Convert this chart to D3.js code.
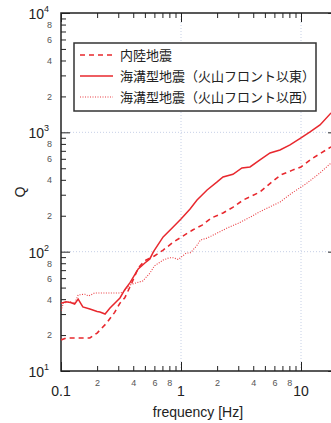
<!DOCTYPE html>
<html>
<head>
<meta charset="utf-8">
<script src="https://cdn.jsdelivr.net/npm/d3@7"></script>
<style>
  html, body { margin: 0; padding: 0; background: #fff; }
  svg { display: block; }
</style>
</head>
<body>
<svg id="chart" width="331" height="423"></svg>
<script>
// Q(f) curves for three earthquake groups
const seriesNames = ["内陸地震", "海溝型地震（火山フロント以東）", "海溝型地震（火山フロント以西）"];

const freqInland = [0.1, 0.11, 0.139, 0.174, 0.2, 0.24, 0.28, 0.31, 0.34, 0.39, 0.44, 0.5, 0.6, 0.71, 0.86, 1.0, 1.25, 1.5, 1.8, 2.24, 2.7, 3.3, 4.55, 5.6, 6.8, 8.4, 10, 12.3, 17.8];
const qInland    = [18.2, 18.9, 18.9, 18.9, 20.8, 25.2, 31, 37, 41, 55, 73, 84, 92, 103, 120, 132, 152, 167, 192, 211, 235, 271, 316, 377, 440, 480, 513, 600, 755];

const freqEast = [0.1, 0.11, 0.12, 0.13, 0.139, 0.152, 0.174, 0.2, 0.211, 0.233, 0.256, 0.31, 0.34, 0.376, 0.44, 0.5, 0.55, 0.59, 0.71, 0.86, 1.0, 1.19, 1.36, 1.65, 2.0, 2.24, 2.71, 3.22, 3.76, 4.55, 5.52, 6.68, 8.1, 10, 11.9, 14.4, 17.8];
const qEast    = [37, 38, 37.5, 36.4, 40, 34.4, 33.1, 31.5, 31.2, 30.0, 33.7, 40.9, 48, 55, 71.6, 80.4, 86.9, 100, 133, 161, 188, 228, 271, 329, 384, 423, 445, 503, 513, 587, 672, 712, 784, 897, 1007, 1153, 1455];

const freqWest = [0.1, 0.105, 0.12, 0.13, 0.139, 0.158, 0.17, 0.19, 0.25, 0.31, 0.33, 0.376, 0.42, 0.48, 0.55, 0.6, 0.71, 0.8, 0.86, 0.95, 1.1, 1.2, 1.35, 1.45, 1.65, 2.0, 2.4, 3.0, 3.6, 4.7, 6.7, 8.4, 11, 14.4, 17.8];
const qWest    = [32, 37.2, 38, 37, 43.4, 44, 42.5, 45, 45, 45, 46, 52.6, 54.6, 56.8, 66, 76, 85, 89, 89, 86, 97, 98, 112, 125, 130, 143, 157, 173, 190, 220, 261, 310, 370, 457, 554];

const xDomain = [0.1, 20];
const yDomain = [10, 10000];
const xDecadeLabels = ["0.1", "1", "10"];
const xDecades = [0.1, 1, 10];
const yDecades = [10, 100, 1000, 10000];
const yDecadeExps = ["1", "2", "3", "4"];
const minorLabelDigits = [2, 4, 6, 8];

(function draw() {
  const svg = d3.select("#chart");
  const plotLeft = 61, plotTop = 13, plotBottom = 371;
  const decadePx = 120;
  const plotRight = plotLeft + decadePx * Math.log10(xDomain[1] / xDomain[0]);

  const x = d3.scaleLog().domain(xDomain).range([plotLeft, plotRight]);
  const y = d3.scaleLog().domain(yDomain).range([plotBottom, plotTop]);

  const red = "#e8282e";
  const axisColor = "#222";
  const tickFont = "'Liberation Sans', Arial, sans-serif";
  const cjkFont = "'Noto Sans CJK JP', sans-serif";

  // minor tick values strictly inside the domain
  function minors(domain) {
    const out = [];
    for (let e = Math.floor(Math.log10(domain[0])); e < Math.ceil(Math.log10(domain[1])); e++) {
      for (let m = 2; m <= 9; m++) {
        const v = m * Math.pow(10, e);
        if (v > domain[0] && v < domain[1]) out.push(+v.toPrecision(3));
      }
    }
    return out;
  }
  const xMinor = minors(xDomain);
  const yMinor = minors(yDomain);
  const leadDigit = v => Math.round(v / Math.pow(10, Math.floor(Math.log10(v) + 1e-9)));

  // grid at decades
  const grid = svg.append("g").attr("stroke", "#b8c4e0").attr("stroke-width", 0.8).attr("stroke-dasharray", "1,2");
  xDecades.filter(d => d > xDomain[0]).forEach(d => {
    grid.append("line").attr("x1", x(d)).attr("x2", x(d)).attr("y1", plotTop).attr("y2", plotBottom);
  });
  yDecades.filter(d => d > yDomain[0] && d < yDomain[1]).forEach(d => {
    grid.append("line").attr("x1", plotLeft).attr("x2", plotRight).attr("y1", y(d)).attr("y2", y(d));
  });

  // axes with inward ticks
  function styleAxis(g) {
    g.select(".domain").remove();
    g.selectAll(".tick line").attr("stroke", axisColor).attr("stroke-width", 1);
    g.selectAll(".tick text").attr("fill", "#555").attr("font-family", tickFont).attr("font-size", 9);
  }
  const minorFmt = d => minorLabelDigits.includes(leadDigit(d)) ? String(leadDigit(d)) : "";

  svg.append("g").attr("transform", `translate(0,${plotBottom})`)
    .call(d3.axisBottom(x).tickValues(xMinor).tickSizeInner(-5).tickSizeOuter(0).tickPadding(9).tickFormat(minorFmt))
    .call(styleAxis);
  svg.append("g").attr("transform", `translate(0,${plotBottom})`)
    .call(d3.axisBottom(x).tickValues(xDecades).tickSizeInner(-9).tickSizeOuter(0).tickFormat(""))
    .call(styleAxis);
  svg.append("g").attr("transform", `translate(0,${plotTop})`)
    .call(d3.axisTop(x).tickValues(xMinor).tickSizeInner(-5).tickSizeOuter(0).tickFormat(""))
    .call(styleAxis);
  svg.append("g").attr("transform", `translate(0,${plotTop})`)
    .call(d3.axisTop(x).tickValues(xDecades).tickSizeInner(-9).tickSizeOuter(0).tickFormat(""))
    .call(styleAxis);
  svg.append("g").attr("transform", `translate(${plotLeft},0)`)
    .call(d3.axisLeft(y).tickValues(yMinor).tickSizeInner(-5).tickSizeOuter(0).tickPadding(9).tickFormat(minorFmt))
    .call(styleAxis);
  svg.append("g").attr("transform", `translate(${plotLeft},0)`)
    .call(d3.axisLeft(y).tickValues(yDecades).tickSizeInner(-9).tickSizeOuter(0).tickFormat(""))
    .call(styleAxis);
  svg.append("g").attr("transform", `translate(${plotRight},0)`)
    .call(d3.axisRight(y).tickValues(yMinor).tickSizeInner(-5).tickSizeOuter(0).tickFormat(""))
    .call(styleAxis);
  svg.append("g").attr("transform", `translate(${plotRight},0)`)
    .call(d3.axisRight(y).tickValues(yDecades).tickSizeInner(-9).tickSizeOuter(0).tickFormat(""))
    .call(styleAxis);

  // frame
  svg.append("rect").attr("x", plotLeft).attr("y", plotTop)
    .attr("width", plotRight - plotLeft).attr("height", plotBottom - plotTop)
    .attr("fill", "none").attr("stroke", axisColor).attr("stroke-width", 1.5);

  // decade labels
  svg.append("g").selectAll("text").data(xDecades).join("text")
    .attr("x", d => x(d)).attr("y", plotBottom + 25)
    .attr("text-anchor", "middle").attr("font-family", tickFont).attr("font-size", 14).attr("fill", "#222")
    .text((d, i) => xDecadeLabels[i]);

  const yl = svg.append("g").selectAll("text").data(yDecades).join("text")
    .attr("x", plotLeft - 12).attr("y", d => y(d) + 6)
    .attr("text-anchor", "end").attr("font-family", tickFont).attr("font-size", 14).attr("fill", "#222");
  yl.append("tspan").text("10");
  yl.append("tspan").attr("dy", -7).attr("font-size", 9).text((d, i) => yDecadeExps[i]);

  // axis titles
  svg.append("text").attr("x", 198).attr("y", 417).attr("text-anchor", "middle")
    .attr("font-family", tickFont).attr("font-size", 14).attr("fill", "#222").text("frequency [Hz]");
  svg.append("text").attr("transform", `translate(25,${(plotTop + plotBottom) / 2}) rotate(-90)`)
    .attr("text-anchor", "middle").attr("font-family", tickFont).attr("font-size", 14).attr("fill", "#222").text("Q");

  // curves
  svg.append("clipPath").attr("id", "plot-clip").append("rect")
    .attr("x", plotLeft).attr("y", plotTop).attr("width", plotRight - plotLeft).attr("height", plotBottom - plotTop);

  const line = d3.line().x(d => x(d[0])).y(d => y(d[1]));
  const series = [
    { f: freqInland, q: qInland, width: 1.6, dash: "5,4", opacity: 1 },
    { f: freqEast,   q: qEast,   width: 1.5, dash: null,  opacity: 1 },
    { f: freqWest,   q: qWest,   width: 1.1, dash: "1,1.5", opacity: 0.9 }
  ];
  const curves = svg.append("g").attr("clip-path", "url(#plot-clip)");
  series.forEach(s => {
    curves.append("path").datum(d3.zip(s.f, s.q))
      .attr("d", line).attr("fill", "none").attr("stroke", red)
      .attr("stroke-width", s.width).attr("stroke-dasharray", s.dash).attr("opacity", s.opacity);
  });

  // legend
  const lg = svg.append("g");
  lg.append("rect").attr("x", 74).attr("y", 43).attr("width", 242).attr("height", 68)
    .attr("fill", "#fff").attr("stroke", "#333").attr("stroke-width", 1.5);
  const rowY = [55, 76, 97];
  series.forEach((s, i) => {
    lg.append("line").attr("x1", 80).attr("x2", 113).attr("y1", rowY[i]).attr("y2", rowY[i])
      .attr("stroke", red).attr("stroke-width", s.width).attr("stroke-dasharray", s.dash).attr("opacity", s.opacity);
    lg.append("text").attr("x", 120).attr("y", rowY[i] + 4.5)
      .attr("font-family", cjkFont).attr("font-size", 13).attr("fill", "#222")
      .text(seriesNames[i]);
  });
})();
</script>
</body>
</html>
